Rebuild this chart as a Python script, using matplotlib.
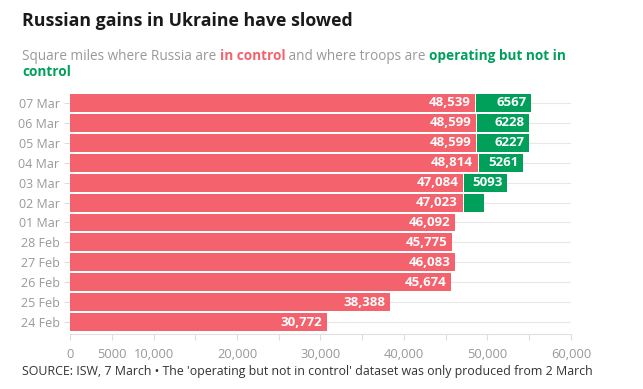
import matplotlib
matplotlib.use("Agg")
import matplotlib.pyplot as plt

dates = ["24 Feb", "25 Feb", "26 Feb", "27 Feb", "28 Feb", "01 Mar",
         "02 Mar", "03 Mar", "04 Mar", "05 Mar", "06 Mar", "07 Mar"]
in_control = [30772, 38388, 45674, 46083, 45775, 46092,
              47023, 47084, 48814, 48599, 48599, 48539]
operating = [0, 0, 0, 0, 0, 0, 2400, 5093, 5261, 6227, 6228, 6567]
operating_labels = ["", "", "", "", "", "", "", "5093", "5261", "6227", "6228", "6567"]

x_ticks = list(range(0, 60001, 5000))
x_tick_labels = ["0", "5000", "10,000", "", "20,000", "", "30,000", "",
                 "40,000", "", "50,000", "", "60,000"]

RED = "#f4636d"
GREEN = "#00a05a"
GREY = "#999999"

plt.rcParams["font.family"] = ["Open Sans", "DejaVu Sans"]

fig = plt.figure(figsize=(6.43, 3.89), dpi=100)
ax = fig.add_axes([0.1089, 0.1414, 0.779, 0.6195])

y = list(range(len(dates)))
gap = 150

for yi in y:
    ax.axhline(yi, color="#e8e8e8", lw=0.8, zorder=0)

ax.barh(y, in_control, height=0.9, color=RED, zorder=2)
starts = [v + gap for v in in_control]
ax.barh(y, operating, left=starts, height=0.9, color=GREEN, zorder=2)

for yi, v in zip(y, in_control):
    ax.text(v - 550, yi, f"{v:,}", color="white", fontweight="bold",
            fontsize=9.5, ha="right", va="center", zorder=3)
for yi, s, o, lab in zip(y, starts, operating, operating_labels):
    if lab:
        ax.text(s + o - 550, yi, lab, color="white", fontweight="bold",
                fontsize=9.5, ha="right", va="center", zorder=3)

ax.set_xlim(0, 60000)
ax.set_ylim(-0.6, 11.5)
ax.set_yticks(y)
ax.set_yticklabels(dates)
ax.set_xticks(x_ticks)
ax.set_xticklabels(x_tick_labels)
ax.tick_params(axis="both", colors="#dddddd", labelcolor=GREY, labelsize=9,
               length=4, width=0.8)
ax.tick_params(axis="y", labelsize=9)
ax.tick_params(axis="x", pad=6, labelsize=9.3)
for side in ["top", "right", "left"]:
    ax.spines[side].set_visible(False)
ax.spines["bottom"].set_color("#e0e0e0")

# title and subtitle
fig.text(22 / 643, 1 - 21 / 389, "Russian gains in Ukraine have slowed",
         fontsize=12.8, fontweight="bold", color="#1a1a1a", va="center")

parts = [("Square miles where Russia are ", GREY, "normal"),
         ("in control", RED, "bold"),
         (" and where troops are ", GREY, "normal"),
         ("operating but not in", GREEN, "bold")]
t = fig.text(22 / 643, 1 - 56 / 389, parts[0][0], fontsize=9.8,
             color=parts[0][1], fontweight=parts[0][2], va="center")
for txt, col, wt in parts[1:]:
    t = ax.annotate(txt, xy=(1, 0.5), xycoords=t, fontsize=9.8, color=col,
                    fontweight=wt, va="center", ha="left",
                    annotation_clip=False)
fig.text(22 / 643, 1 - 72 / 389, "control", fontsize=9.8, color=GREEN,
         fontweight="bold", va="center")

fig.text(22 / 643, 1 - 371 / 389,
         "SOURCE: ISW, 7 March \u2022 The 'operating but not in control' dataset was only produced from 2 March",
         fontsize=8.9, color="#333333", va="center")

fig.savefig("out.png", dpi=100)
